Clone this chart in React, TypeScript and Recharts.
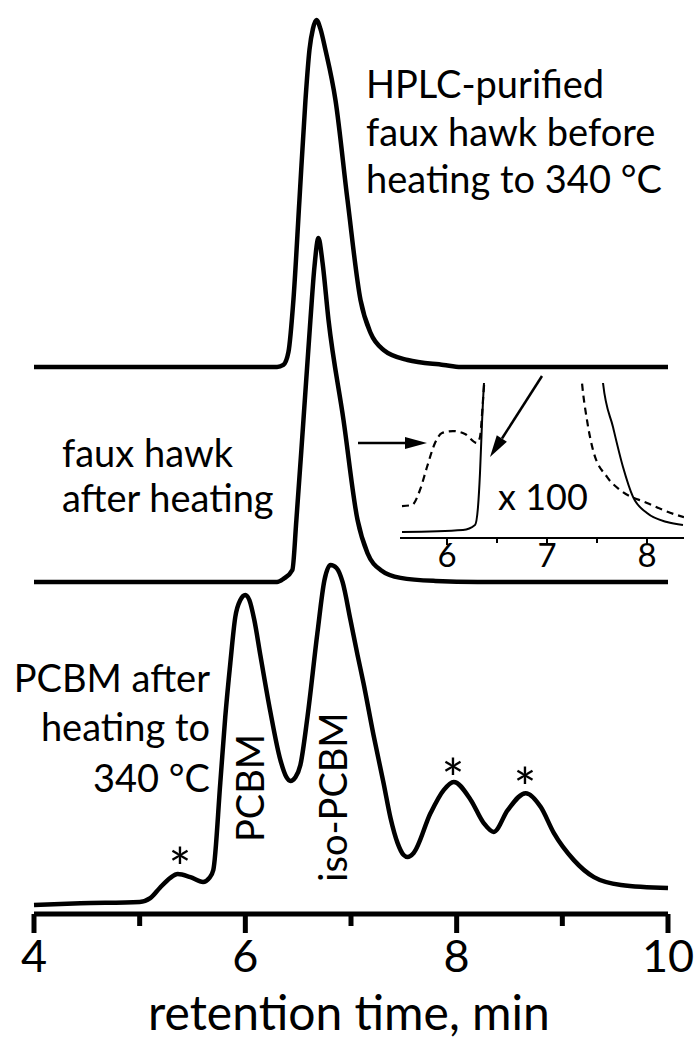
import React from 'react';
import { LineChart, Line, XAxis, YAxis } from 'recharts';

const FONT = 'Lato, "Open Sans", sans-serif';

// retention times (min) and normalised detector signal for each trace
const TOP_TIMES = [4.0, 5.5, 6.3, 6.36, 6.408, 6.455, 6.512, 6.569, 6.607, 6.64, 6.673, 6.71, 6.758, 6.853, 6.967, 7.09, 7.185, 7.308, 7.536, 7.877, 8.04, 10.0];
const TOP_SIGNAL = [0, 0, 0, 0.006, 0.043, 0.193, 0.481, 0.769, 0.914, 0.975, 1.0, 0.975, 0.914, 0.769, 0.481, 0.193, 0.098, 0.049, 0.02, 0.006, 0, 0];

const MID_TIMES = [4.0, 5.5, 6.3, 6.36, 6.445, 6.483, 6.55, 6.616, 6.654, 6.692, 6.73, 6.787, 6.929, 7.062, 7.156, 7.28, 7.469, 7.8, 8.2, 10.0];
const MID_SIGNAL = [0, 0, 0, 0.009, 0.035, 0.18, 0.471, 0.762, 0.916, 1.0, 0.93, 0.762, 0.471, 0.18, 0.084, 0.035, 0.012, 0.003, 0, 0];

const PCBM_TIMES = [4.0, 4.44, 5.0, 5.1, 5.19, 5.29, 5.36, 5.48, 5.6, 5.66, 5.697, 5.763, 5.81, 5.858, 5.905, 5.953, 6.0, 6.038, 6.085, 6.142, 6.237, 6.332, 6.389, 6.427, 6.474, 6.521, 6.588, 6.682, 6.749, 6.806, 6.863, 6.92, 6.995, 7.062, 7.118, 7.213, 7.308, 7.374, 7.441, 7.498, 7.536, 7.593, 7.754, 7.877, 7.972, 8.133, 8.256, 8.351, 8.483, 8.654, 8.796, 8.919, 9.109, 9.299, 9.555, 10.0];
const PCBM_SIGNAL = [0, 0.005, 0.009, 0.02, 0.05, 0.08, 0.091, 0.082, 0.068, 0.08, 0.103, 0.359, 0.553, 0.712, 0.847, 0.897, 0.912, 0.897, 0.838, 0.735, 0.568, 0.426, 0.376, 0.365, 0.376, 0.412, 0.553, 0.8, 0.956, 1.0, 0.991, 0.95, 0.838, 0.735, 0.653, 0.5, 0.359, 0.256, 0.182, 0.147, 0.141, 0.153, 0.271, 0.338, 0.362, 0.309, 0.241, 0.215, 0.279, 0.329, 0.288, 0.212, 0.132, 0.082, 0.059, 0.05];

// inset, signal x 100 (null = off scale gap)
const INSET_SOLID_TIMES = [5.55, 6.16, 6.28, 6.31, 6.33, 6.35, 6.37, 6.39, 7.0, 7.54, 7.56, 7.66, 7.76, 7.86, 8.0, 8.2, 8.36];
const INSET_SOLID = [0.039, 0.052, 0.084, 0.2, 0.42, 0.742, 1.0, 1.15, null, 1.15, 1.0, 0.716, 0.458, 0.265, 0.161, 0.103, 0.084];
const INSET_DASH_TIMES = [5.55, 5.65, 5.73, 5.8, 5.88, 5.95, 6.06, 6.18, 6.3, 6.33, 6.36, 6.38, 7.0, 7.33, 7.35, 7.4, 7.46, 7.6, 7.73, 8.0, 8.3, 8.37];
const INSET_DASH = [0.206, 0.213, 0.31, 0.458, 0.613, 0.677, 0.69, 0.671, 0.613, 0.652, 0.89, 1.08, null, 1.15, 1.0, 0.76, 0.568, 0.394, 0.31, 0.226, 0.148, 0.135];

const MAIN_TICKS = [4, 5, 6, 7, 8, 9, 10];
const INSET_TICKS = [6, 6.5, 7, 7.5, 8];

// vertical stacking of the traces (y axis units)
const TOP_BASE = 60.78, TOP_H = 38.56;
const MID_BASE = 36.89, MID_H = 38.22;
const PCBM_BASE = 1.0, PCBM_H = 37.78;

const build = (times: number[], sig: (number | null)[], base = 0, h = 1) =>
  times.map((t, i) => ({ t, y: sig[i] == null ? null : base + h * (sig[i] as number) }));

const MainTick = ({ x, y, payload }: any) => {
  const major = payload.value % 2 === 0;
  return (
    <g>
      <line x1={x} x2={x} y1={y} y2={y + (major ? 19 : 12)} stroke="#000" strokeWidth={5} />
      {major && (
        <text x={x} y={y + 58} textAnchor="middle" fontFamily={FONT} fontSize={45} fill="#000">
          {payload.value}
        </text>
      )}
    </g>
  );
};

const InsetTick = ({ x, y, payload }: any) => {
  const major = Number.isInteger(payload.value);
  return (
    <g>
      <line x1={x} x2={x} y1={y} y2={y + (major ? 7 : 5)} stroke="#000" strokeWidth={2} />
      {major && (
        <text x={x} y={y + 29} textAnchor="middle" fontFamily={FONT} fontSize={33} fill="#000">
          {payload.value}
        </text>
      )}
    </g>
  );
};

const txt = { fontFamily: FONT, fontSize: 38, fill: '#000' };
const star = { fontFamily: FONT, fontSize: 54, fill: '#000', textAnchor: 'middle' as const };

export default function App() {
  const top = build(TOP_TIMES, TOP_SIGNAL, TOP_BASE, TOP_H);
  const mid = build(MID_TIMES, MID_SIGNAL, MID_BASE, MID_H);
  const pcbm = build(PCBM_TIMES, PCBM_SIGNAL, PCBM_BASE, PCBM_H);
  const insetSolid = build(INSET_SOLID_TIMES, INSET_SOLID);
  const insetDash = build(INSET_DASH_TIMES, INSET_DASH);

  return (
    <div style={{ position: 'absolute', left: 0, top: 0, width: 700, height: 1042, background: '#fff' }}>
      <div style={{ position: 'absolute', left: 0, top: 0 }}>
        <LineChart width={700} height={1042} margin={{ top: 14, right: 32, bottom: 0, left: 34 }}>
          <XAxis
            dataKey="t"
            type="number"
            domain={[4, 10]}
            ticks={MAIN_TICKS}
            height={128}
            tickSize={0}
            tickMargin={0}
            tickLine={false}
            axisLine={{ stroke: '#000', strokeWidth: 5 }}
            tick={<MainTick />}
            interval={0}
            label={{
              content: ({ viewBox }: any) => (
                <text x={viewBox.x + viewBox.width / 2 - 2} y={viewBox.y + 116} textAnchor="middle" fontFamily={FONT} fontSize={48} fill="#000">
                  retention time, min
                </text>
              ),
            }}
          />
          <YAxis hide domain={[0, 100]} allowDataOverflow />
          <Line data={top} dataKey="y" type="monotone" stroke="#000" strokeWidth={4.5} dot={false} isAnimationActive={false} />
          <Line data={mid} dataKey="y" type="monotone" stroke="#000" strokeWidth={4.5} dot={false} isAnimationActive={false} />
          <Line data={pcbm} dataKey="y" type="monotone" stroke="#000" strokeWidth={4.5} dot={false} isAnimationActive={false} />
        </LineChart>
      </div>

      <div style={{ position: 'absolute', left: 380, top: 373 }}>
        <LineChart width={320} height={220} margin={{ top: 10, right: 16, bottom: 0, left: 20 }}>
          <XAxis
            dataKey="t"
            type="number"
            domain={[5.53, 8.37]}
            allowDataOverflow
            ticks={INSET_TICKS}
            interval={0}
            height={55}
            tickSize={0}
            tickMargin={0}
            tickLine={false}
            axisLine={{ stroke: '#000', strokeWidth: 2 }}
            tick={<InsetTick />}
          />
          <YAxis hide domain={[0, 1]} allowDataOverflow />
          <Line data={insetSolid} dataKey="y" type="monotone" stroke="#000" strokeWidth={2} dot={false} isAnimationActive={false} />
          <Line data={insetDash} dataKey="y" type="monotone" stroke="#000" strokeWidth={2.2} strokeDasharray="7 5" dot={false} isAnimationActive={false} />
        </LineChart>
      </div>

      <svg width={700} height={1042} style={{ position: 'absolute', left: 0, top: 0, pointerEvents: 'none' }}>
        <text x={366} y={98} {...txt}>HPLC-purified</text>
        <text x={366} y={146} {...txt}>faux hawk before</text>
        <text x={366} y={193} {...txt}>heating to 340 °C</text>

        <text x={62} y={467} {...txt}>faux hawk</text>
        <text x={62} y={512} {...txt}>after heating</text>

        <text x={210} y={692} textAnchor="end" {...txt}>PCBM after</text>
        <text x={210} y={741} textAnchor="end" {...txt}>heating to</text>
        <text x={210} y={792} textAnchor="end" {...txt}>340 °C</text>

        <text transform="translate(264,788) rotate(-90)" textAnchor="middle" {...txt}>PCBM</text>
        <text transform="translate(347,797) rotate(-90)" textAnchor="middle" {...txt}>iso-PCBM</text>

        <text x={180} y={887} {...star}>*</text>
        <text x={453} y={798} {...star}>*</text>
        <text x={525} y={807} {...star}>*</text>

        <text x={498} y={510} fontFamily={FONT} fontSize={36} fill="#000">x 100</text>

        <line x1={358} y1={443} x2={406} y2={443} stroke="#000" strokeWidth={2.5} />
        <polygon points="427,443 405,437 405,449" fill="#000" />
        <line x1={542} y1={376} x2={502} y2={438.5} stroke="#000" strokeWidth={2.5} />
        <polygon points="490,457 506.9,441.7 496.8,435.3" fill="#000" />
      </svg>
    </div>
  );
}
